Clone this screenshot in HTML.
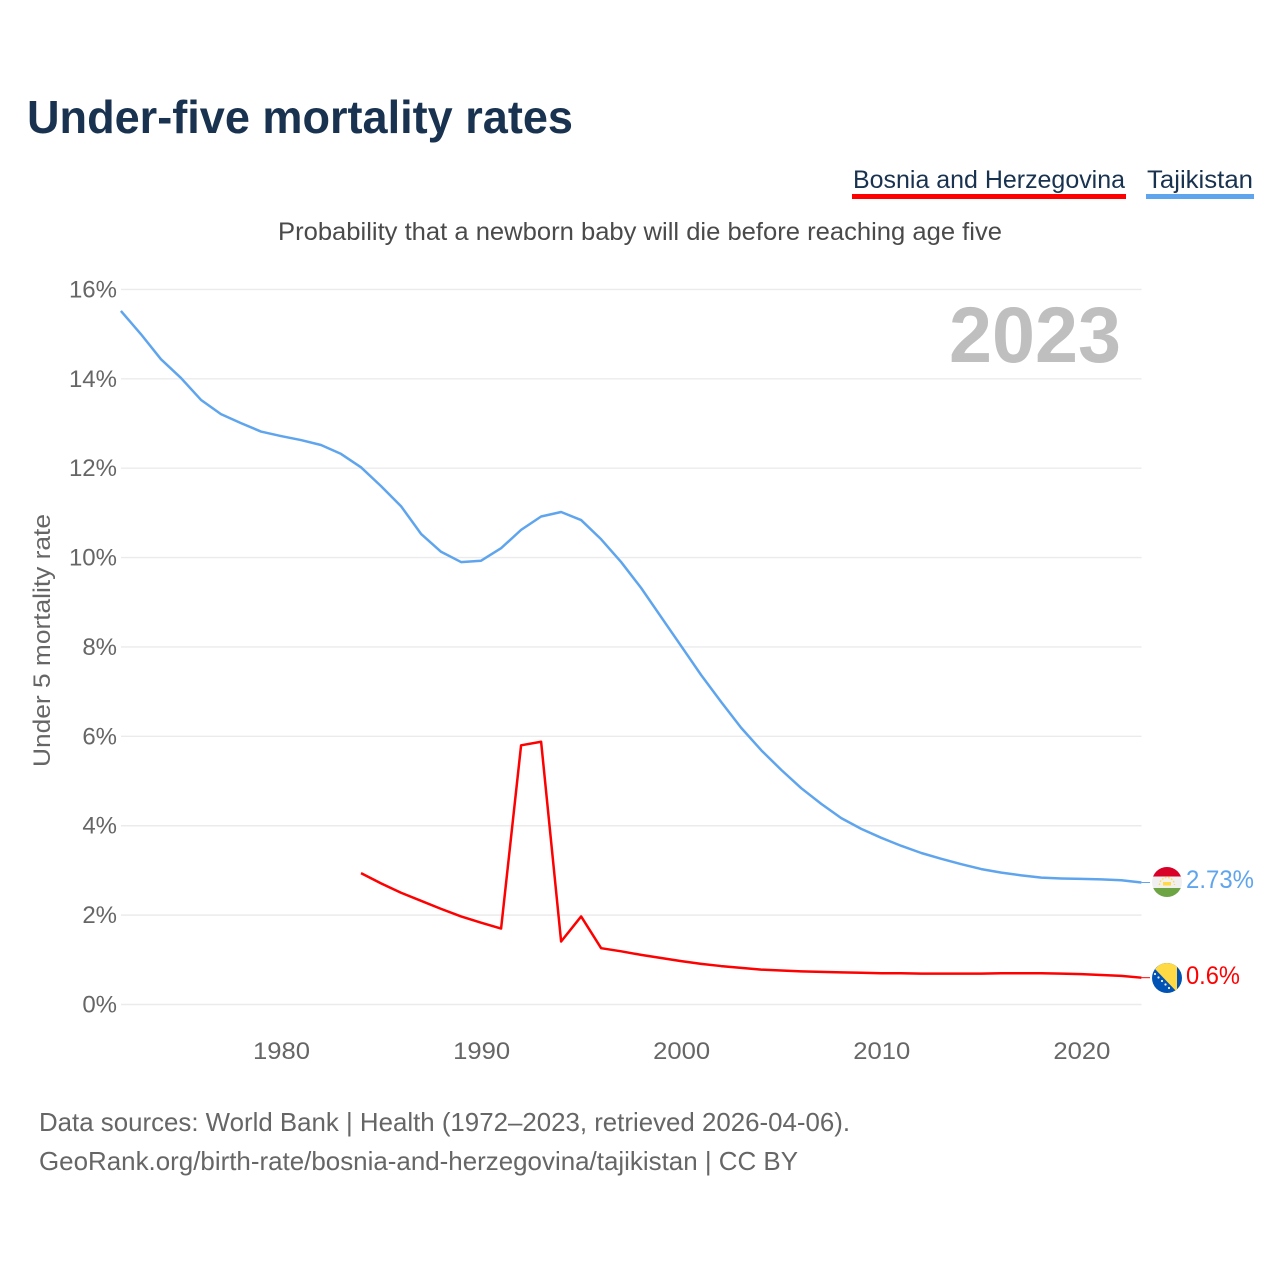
<!DOCTYPE html>
<html lang="en">
<head>
<meta charset="utf-8">
<title>Under-five mortality rates</title>
<style>
html,body{margin:0;padding:0;background:#fff;width:1280px;height:1280px;overflow:hidden}
svg{display:block}
text{font-family:"Liberation Sans",sans-serif}
</style>
</head>
<body>
<svg id="chart" xmlns="http://www.w3.org/2000/svg" width="1280" height="1280" viewBox="0 0 1280 1280">
  <defs>
    <clipPath id="flag-clip-tj"><circle cx="1167" cy="882" r="15"/></clipPath>
    <clipPath id="flag-clip-ba"><circle cx="1167" cy="978" r="15"/></clipPath>
  </defs>
  <text x="27" y="133" font-size="46" font-weight="700" fill="#18324f" textLength="546" lengthAdjust="spacingAndGlyphs">Under-five mortality rates</text>
  <g>
    <text x="853" y="188" font-size="25" fill="#18324f" textLength="272" lengthAdjust="spacingAndGlyphs">Bosnia and Herzegovina</text>
    <rect x="852" y="194" width="274" height="5" fill="#ff0000"/>
  </g>
  <g>
    <text x="1147" y="188" font-size="25" fill="#18324f" textLength="106" lengthAdjust="spacingAndGlyphs">Tajikistan</text>
    <rect x="1146" y="194" width="108" height="5" fill="#5fa5ee"/>
  </g>
  <text x="278" y="240" font-size="25" fill="#4a4a4a" textLength="724" lengthAdjust="spacingAndGlyphs">Probability that a newborn baby will die before reaching age five</text>
  <text transform="translate(50,767) rotate(-90)" x="0" y="0" font-size="24" fill="#666666" textLength="253" lengthAdjust="spacingAndGlyphs">Under 5 mortality rate</text>
  <g id="grid"></g>
  <g id="y-ticks"></g>
  <g id="x-ticks"></g>
  <text id="year-label" x="949" y="362" font-size="79" font-weight="700" fill="#bfbfbf" textLength="172" lengthAdjust="spacingAndGlyphs"></text>
  <g id="series"></g>

  <g clip-path="url(#flag-clip-tj)">
    <rect x="1152" y="867" width="30" height="30" fill="#f0f0f0"/>
    <rect x="1152" y="867" width="30" height="9.5" fill="#d80027"/>
    <rect x="1152" y="888" width="30" height="9.5" fill="#6da544"/>
    <rect x="1163" y="882" width="8" height="3.5" fill="#ffda44"/>
    <path d="M1159.5 885a7.5 7.5 0 0 1 15 0" fill="none" stroke="#ffda44" stroke-width="1.3" stroke-dasharray="1.6 1.6"/>
  </g>
  <g clip-path="url(#flag-clip-ba)">
    <rect x="1152" y="963" width="30" height="30" fill="#0052b4"/>
    <path d="M1155 969L1162 962L1177 962L1177 992Z" fill="#ffda44"/>
    <circle cx="1155" cy="974" r="1.1" fill="#f0f0f0"/>
    <circle cx="1158.5" cy="977.5" r="1.1" fill="#f0f0f0"/>
    <circle cx="1162" cy="981" r="1.1" fill="#f0f0f0"/>
    <circle cx="1165.5" cy="984.5" r="1.1" fill="#f0f0f0"/>
    <circle cx="1169" cy="988" r="1.1" fill="#f0f0f0"/>
  </g>
  <text id="value-tj" x="1186" y="888" font-size="25" fill="#5fa5ee" textLength="68" lengthAdjust="spacingAndGlyphs"></text>
  <text id="value-ba" x="1186" y="984" font-size="25" fill="#ff0000" textLength="54" lengthAdjust="spacingAndGlyphs"></text>

  <text x="39" y="1131" font-size="26" fill="#666666" textLength="811" lengthAdjust="spacingAndGlyphs">Data sources: World Bank | Health (1972–2023, retrieved 2026-04-06).</text>
  <text x="39" y="1170" font-size="26" fill="#666666" textLength="759" lengthAdjust="spacingAndGlyphs">GeoRank.org/birth-rate/bosnia-and-herzegovina/tajikistan | CC BY</text>
</svg>
<script>
const years = [1972,1973,1974,1975,1976,1977,1978,1979,1980,1981,1982,1983,1984,1985,1986,1987,1988,1989,1990,1991,1992,1993,1994,1995,1996,1997,1998,1999,2000,2001,2002,2003,2004,2005,2006,2007,2008,2009,2010,2011,2012,2013,2014,2015,2016,2017,2018,2019,2020,2021,2022,2023];
const tajikistanValues = [15.52,15.0,14.44,14.02,13.53,13.21,13.01,12.82,12.72,12.63,12.52,12.32,12.02,11.6,11.15,10.53,10.13,9.9,9.93,10.21,10.62,10.92,11.02,10.84,10.41,9.9,9.32,8.67,8.02,7.37,6.77,6.19,5.69,5.25,4.84,4.49,4.17,3.93,3.73,3.55,3.39,3.26,3.14,3.03,2.95,2.89,2.84,2.82,2.81,2.80,2.78,2.73];
const bosniaValues = [null,null,null,null,null,null,null,null,null,null,null,null,2.94,2.71,2.5,2.32,2.14,1.97,1.83,1.7,5.8,5.88,1.41,1.97,1.26,1.19,1.11,1.04,0.97,0.91,0.86,0.82,0.78,0.76,0.74,0.73,0.72,0.71,0.70,0.70,0.69,0.69,0.69,0.69,0.70,0.70,0.70,0.69,0.68,0.66,0.64,0.60];
const yTickValues = [0,2,4,6,8,10,12,14,16];
const yTickLabels = ['0%','2%','4%','6%','8%','10%','12%','14%','16%'];
const xTickValues = [1980,1990,2000,2010,2020];
const xTickLabels = ['1980','1990','2000','2010','2020'];

const NS = 'http://www.w3.org/2000/svg';
function xScale(year) { return 120.9 + (year - 1972) * 20.01; }
function yScale(value) { return 1004.5 - value * 44.69; }
function make(tag, attrs, parent) {
  const el = document.createElementNS(NS, tag);
  for (const k in attrs) el.setAttribute(k, attrs[k]);
  parent.appendChild(el);
  return el;
}

const grid = document.getElementById('grid');
const yTicks = document.getElementById('y-ticks');
const xTicks = document.getElementById('x-ticks');
const series = document.getElementById('series');

yTickValues.forEach(function (v, i) {
  const line = make('line', {x1: 121, x2: 1141.5, y1: yScale(v), y2: yScale(v), stroke: '#ebebeb', 'stroke-width': 1.4}, grid);
  
  
  const t = make('text', {x: 117, y: yScale(v) + 8, 'text-anchor': 'end', 'font-size': 24, fill: '#666666'}, yTicks);
  
  
  t.textContent = yTickLabels[i];
});

xTickValues.forEach(function (v, i) {
  const t = make('text', {x: xScale(v) + 0.5, y: 1059, 'text-anchor': 'middle', 'font-size': 24, fill: '#666666', textLength: 57, lengthAdjust: 'spacingAndGlyphs'}, xTicks);
  
  
  t.textContent = xTickLabels[i];
});

function linePath(values) {
  let d = '';
  values.forEach(function (v, i) {
    if (v === null) return;
    d += (d ? 'L' : 'M') + xScale(years[i]).toFixed(2) + ' ' + yScale(v).toFixed(2);
  });
  return d;
}

const tajikLine = make('path', {d: linePath(tajikistanValues), fill: 'none', stroke: '#5fa5ee', 'stroke-width': 2.5, 'stroke-linejoin': 'round'}, series);



const bosniaLine = make('path', {d: linePath(bosniaValues), fill: 'none', stroke: '#ff0000', 'stroke-width': 2.5, 'stroke-linejoin': 'round'}, series);



const lastIndex = years.length - 1;
const lastX = xScale(years[lastIndex]);

const tajikConnector = make('line', {x1: lastX, x2: 1150, y1: yScale(tajikistanValues[lastIndex]), y2: yScale(tajikistanValues[lastIndex]), stroke: '#5fa5ee', 'stroke-width': 1}, series);



const bosniaConnector = make('line', {x1: lastX, x2: 1150, y1: yScale(bosniaValues[lastIndex]), y2: yScale(bosniaValues[lastIndex]), stroke: '#ff0000', 'stroke-width': 1}, series);



document.getElementById('year-label').textContent = String(years[lastIndex]);
document.getElementById('value-tj').textContent = tajikistanValues[lastIndex] + '%';
document.getElementById('value-ba').textContent = bosniaValues[lastIndex] + '%';
</script>
</body>
</html>
